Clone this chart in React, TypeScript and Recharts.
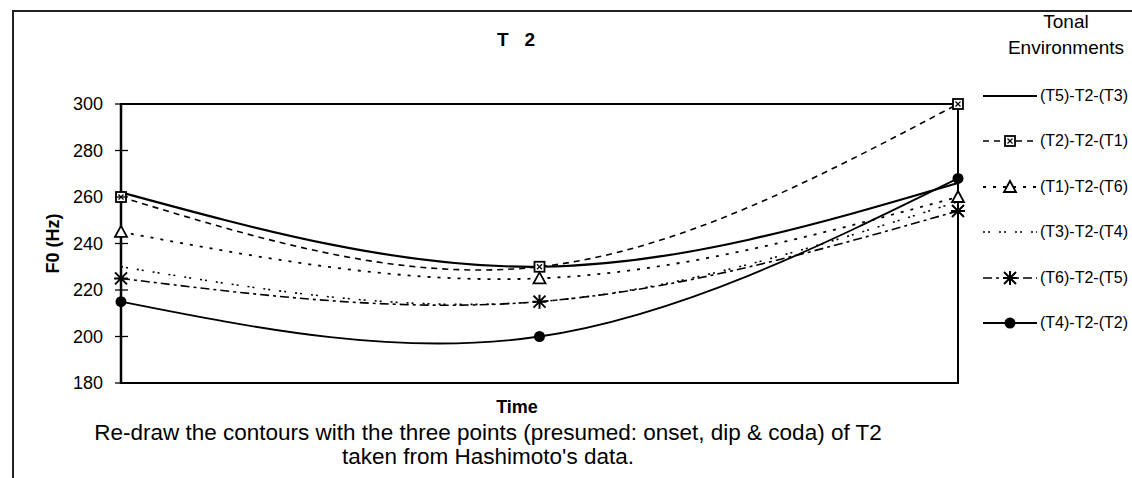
import React from 'react';
import { LineChart, Line, XAxis, YAxis, ReferenceArea } from 'recharts';

// time points: onset, dip, coda
const TIME_POINTS = [0, 1, 2];

const T5_T2_T3 = [262, 230, 266];
const T2_T2_T1 = [260, 230, 300];
const T1_T2_T6 = [245, 225, 260];
const T3_T2_T4 = [230, 215, 258];
const T6_T2_T5 = [225, 215, 254];
const T4_T2_T2 = [215, 200, 268];

const Y_TICKS = [180, 200, 220, 240, 260, 280, 300];

const FONT = '"Liberation Sans", Arial, sans-serif';

type MarkerKind = 'none' | 'square' | 'triangle' | 'star' | 'circle';

const SERIES: { key: string; name: string; values: number[]; dash?: string; width: number; marker: MarkerKind }[] = [
    { key: 's1', name: '(T5)-T2-(T3)', values: T5_T2_T3, width: 2.2, marker: 'none' },
    { key: 's2', name: '(T2)-T2-(T1)', values: T2_T2_T1, dash: '6 5', width: 1.6, marker: 'square' },
    { key: 's3', name: '(T1)-T2-(T6)', values: T1_T2_T6, dash: '3 7', width: 1.8, marker: 'triangle' },
    { key: 's4', name: '(T3)-T2-(T4)', values: T3_T2_T4, dash: '2 3 2 9', width: 1.6, marker: 'none' },
    { key: 's5', name: '(T6)-T2-(T5)', values: T6_T2_T5, dash: '9 4 3 4', width: 1.6, marker: 'star' },
    { key: 's6', name: '(T4)-T2-(T2)', values: T4_T2_T2, width: 1.8, marker: 'circle' },
];

const rows = TIME_POINTS.map((t, i) => {
    const row: Record<string, number> = { t };
    SERIES.forEach(s => { row[s.key] = s.values[i]; });
    return row;
});

const Marker = ({ kind, cx, cy }: { kind: MarkerKind; cx: number; cy: number }) => {
    if (kind === 'square') {
        return (
            <g>
                <rect x={cx - 5} y={cy - 5} width={10} height={10} fill="#fff" stroke="#000" strokeWidth={1.8} />
                <path d={`M${cx - 2.5},${cy - 2.5}L${cx + 2.5},${cy + 2.5}M${cx + 2.5},${cy - 2.5}L${cx - 2.5},${cy + 2.5}`} stroke="#000" strokeWidth={1.2} />
            </g>
        );
    }
    if (kind === 'triangle') {
        return <path d={`M${cx},${cy - 6}L${cx + 6},${cy + 5}L${cx - 6},${cy + 5}Z`} fill="#fff" stroke="#000" strokeWidth={1.8} />;
    }
    if (kind === 'star') {
        return (
            <path
                d={`M${cx - 6},${cy - 6}L${cx + 6},${cy + 6}M${cx + 6},${cy - 6}L${cx - 6},${cy + 6}M${cx},${cy - 7}L${cx},${cy + 7}M${cx - 7},${cy}L${cx + 7},${cy}`}
                stroke="#000"
                strokeWidth={2}
            />
        );
    }
    if (kind === 'circle') {
        return <circle cx={cx} cy={cy} r={5.5} fill="#000" />;
    }
    return null;
};

const YTick = (props: any) => {
    const { x, y, payload } = props;
    return (
        <g>
            <text x={x} y={y} dy={6} textAnchor="end" fontSize={18} fontFamily={FONT} fill="#000">
                {payload.value}
            </text>
            <line x1={x + 12} x2={x + 25} y1={y} y2={y} stroke="#000" strokeWidth={1.3} />
        </g>
    );
};

const text = (left: number, top: number, size: number, bold = false, lineHeight: number | string = 1.2): React.CSSProperties => ({
    position: 'absolute',
    left,
    top,
    transform: 'translate(-50%, -50%)',
    fontFamily: FONT,
    fontSize: size,
    fontWeight: bold ? 'bold' : 'normal',
    whiteSpace: 'pre',
    color: '#000',
    textAlign: 'center',
    lineHeight,
});

const App = () => {
    return (
        <div style={{ position: 'absolute', left: 0, top: 0, width: 1132, height: 478, background: '#fff', overflow: 'hidden' }}>
            {/* frame */}
            <div style={{ position: 'absolute', left: 12, top: 10, width: 1132, height: 478, borderTop: '2px solid #222', borderLeft: '2px solid #222' }} />

            <LineChart width={1132} height={478} data={rows} margin={{ top: 104, right: 174, bottom: 95, left: 51 }}>
                <XAxis dataKey="t" type="number" domain={[0, 2]} ticks={TIME_POINTS} tick={false} tickLine={false} height={0} axisLine={{ stroke: '#000', strokeWidth: 2 }} />
                <YAxis
                    type="number"
                    domain={[180, 300]}
                    ticks={Y_TICKS}
                    width={70}
                    tickSize={6}
                    tickMargin={12}
                    tickLine={false}
                    tick={<YTick />}
                    axisLine={{ stroke: '#000', strokeWidth: 2.5 }}
                    label={{ value: 'F0 (Hz)', angle: -90, position: 'insideLeft', offset: 2, style: { textAnchor: 'middle', fontFamily: FONT, fontSize: 18, fontWeight: 'bold', fill: '#000' } }}
                />
                <ReferenceArea x1={0} x2={2} y1={180} y2={300} fill="none" stroke="#000" strokeWidth={2} ifOverflow="visible" />
                {SERIES.map(s => (
                    <Line
                        key={s.key}
                        dataKey={s.key}
                        name={s.name}
                        type="natural"
                        stroke="#000"
                        strokeWidth={s.width}
                        strokeDasharray={s.dash}
                        dot={s.marker === 'none' ? false : (p: any) => <Marker key={`${s.key}-${p.index}`} kind={s.marker} cx={p.cx} cy={p.cy} />}
                        activeDot={false}
                        isAnimationActive={false}
                    />
                ))}
            </LineChart>

            <div style={text(516, 40, 19, true)}>{'T   2'}</div>
            <div style={text(517, 408, 18, true)}>Time</div>
            <div style={text(488, 432, 22.5)}>Re-draw the contours with the three points (presumed: onset, dip &amp; coda) of T2</div>
            <div style={text(488, 456, 22.5)}>taken from Hashimoto's data.</div>
            <div style={text(1066, 35, 19, false, '26px')}>{'Tonal\nEnvironments'}</div>

            {/* legend */}
            {SERIES.map((s, i) => (
                <div key={s.key} style={{ position: 'absolute', left: 981, top: 85 + i * 45.4, height: 22, display: 'flex', alignItems: 'center' }}>
                    <svg width={58} height={22}>
                        <line x1={2} x2={56} y1={11} y2={11} stroke="#000" strokeWidth={s.width} strokeDasharray={s.dash} />
                        {s.marker !== 'none' && <Marker kind={s.marker} cx={29} cy={11} />}
                    </svg>
                    <span style={{ fontFamily: FONT, fontSize: 16, color: '#000', marginLeft: 1 }}>{s.name}</span>
                </div>
            ))}
        </div>
    );
};

export default App;
